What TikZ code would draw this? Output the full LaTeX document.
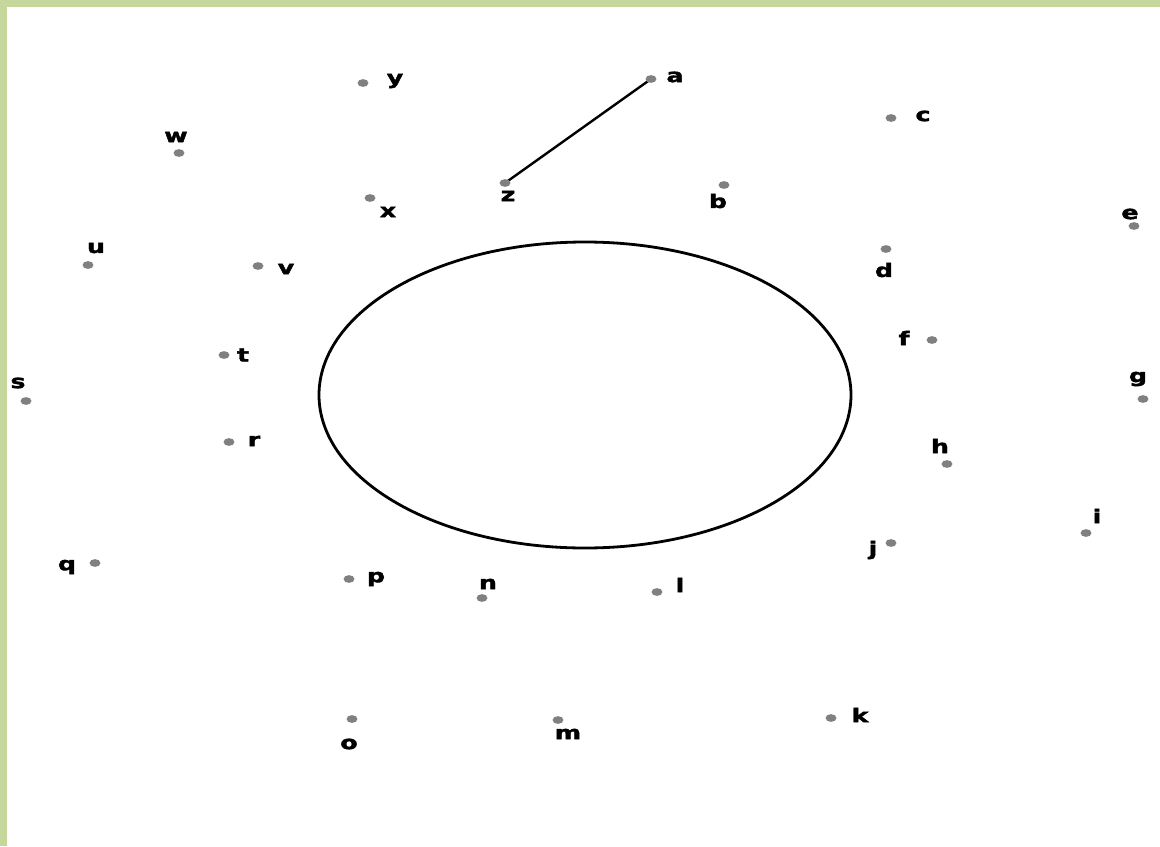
\documentclass[tikz,border=0pt]{standalone}
\usepackage{fontspec}
\newfontfamily\labfont[FakeBold=1.8]{DejaVu Sans Bold}
\usetikzlibrary{shapes.geometric,backgrounds}
\definecolor{framegreen}{HTML}{C5D79A}
\definecolor{dotgray}{HTML}{808080}
\tikzset{
  dot/.style={ellipse,fill=dotgray,draw=none,minimum width=8.2pt,minimum height=5.8pt,inner sep=0pt},
  lab/.style={inner sep=0pt,font=\labfont\bfseries\fontsize{14}{14}\selectfont},
  ring/.style={line width=2.1pt,draw=black},
  edge/.style={line width=1.8pt,draw=black}
}
\newcommand{\wl}[1]{\scalebox{1.35}[1]{#1}}
\begin{document}
\begin{tikzpicture}[x=0.75pt,y=-0.75pt]
\useasboundingbox (0,0) rectangle (1160,846);
\fill[framegreen] (0,0) rectangle (1160,7);
\fill[framegreen] (0,0) rectangle (7,846);
\node[ring,ellipse,minimum width=399pt,minimum height=229.5pt,inner sep=0pt] (ring) at (585,395) {};
% dots
\node[dot] (a) at (651,79) {};
\node[dot] (b) at (724,185) {};
\node[dot] (c) at (891,118) {};
\node[dot] (d) at (886,249) {};
\node[dot] (e) at (1134,226) {};
\node[dot] (f) at (932,340) {};
\node[dot] (g) at (1143,399) {};
\node[dot] (h) at (947,464) {};
\node[dot] (i) at (1086,533) {};
\node[dot] (j) at (891,543) {};
\node[dot] (k) at (831,718) {};
\node[dot] (l) at (657,592) {};
\node[dot] (m) at (558,720) {};
\node[dot] (n) at (482,598) {};
\node[dot] (o) at (352,719) {};
\node[dot] (p) at (349,579) {};
\node[dot] (q) at (95,563) {};
\node[dot] (r) at (229,442) {};
\node[dot] (s) at (26,401) {};
\node[dot] (t) at (224,355) {};
\node[dot] (u) at (88,265) {};
\node[dot] (v) at (258,266) {};
\node[dot] (w) at (179,153) {};
\node[dot] (x) at (370,198) {};
\node[dot] (y) at (363,83) {};
\node[dot] (z) at (505,183) {};
% labels
\node[lab] (la) at (675,77) {\wl{a}};
\node[lab] (lb) at (718,201) {\wl{b}};
\node[lab] (lc) at (923,116) {\wl{c}};
\node[lab] (ld) at (884,270) {\wl{d}};
\node[lab] (le) at (1130,214) {\wl{e}};
\node[lab] (lf) at (904,338) {\wl{f}};
\node[lab] (lg) at (1138,379) {\wl{g}};
\node[lab] (lh) at (940,446) {\wl{h}};
\node[lab] (li) at (1097,516) {\wl{i}};
\node[lab] (lj) at (873,550) {\wl{j}};
\node[lab] (lk) at (860,715) {\wl{k}};
\node[lab] (ll) at (680,585) {\wl{l}};
\node[lab] (lm) at (568,734) {\wl{m}};
\node[lab] (ln) at (488,584) {\wl{n}};
\node[lab] (lo) at (349,744) {\wl{o}};
\node[lab] (lp) at (376,579) {\wl{p}};
\node[lab] (lq) at (67,567) {\wl{q}};
\node[lab] (lr) at (254,441) {\wl{r}};
\node[lab] (ls) at (18,383) {\wl{s}};
\node[lab] (lt) at (243,355) {\wl{t}};
\node[lab] (lu) at (96,248) {\wl{u}};
\node[lab] (lv) at (286,269) {\wl{v}};
\node[lab] (lw) at (176,137) {\wl{w}};
\node[lab] (lx) at (388,212) {\wl{x}};
\node[lab] (ly) at (395,81) {\wl{y}};
\node[lab] (lz) at (508,196) {\wl{z}};
\begin{scope}[on background layer]
\draw[edge] (a.center) -- (z.center);
\end{scope}
\end{tikzpicture}
\end{document}
